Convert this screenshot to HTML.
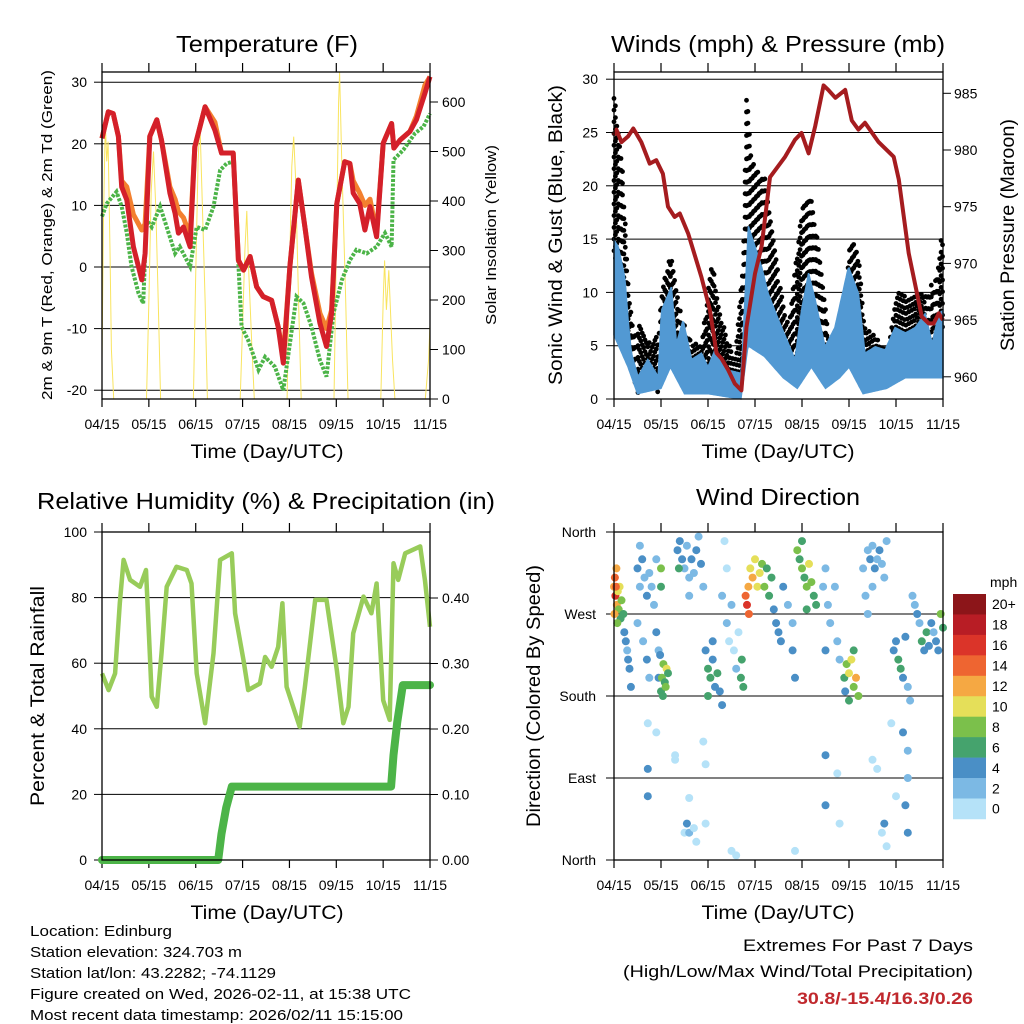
<!DOCTYPE html>
<html><head><meta charset="utf-8"><style>
html,body{margin:0;padding:0;background:#fff}
svg{display:block;font-family:"Liberation Sans",sans-serif}
</style></head><body>
<svg id="fig" width="1024" height="1024" viewBox="0 0 1024 1024" xmlns="http://www.w3.org/2000/svg">
<rect width="1024" height="1024" fill="#fff"/>
<text x="267" y="52" font-size="23" text-anchor="middle" textLength="182" lengthAdjust="spacingAndGlyphs">Temperature (F)</text>
<text x="778" y="52" font-size="23" text-anchor="middle" textLength="334" lengthAdjust="spacingAndGlyphs">Winds (mph) &amp; Pressure (mb)</text>
<text x="266" y="509" font-size="23" text-anchor="middle" textLength="458" lengthAdjust="spacingAndGlyphs">Relative Humidity (%) &amp; Precipitation (in)</text>
<text x="778" y="505" font-size="23" text-anchor="middle" textLength="164" lengthAdjust="spacingAndGlyphs">Wind Direction</text>
<text x="267" y="458" font-size="19" text-anchor="middle" textLength="153" lengthAdjust="spacingAndGlyphs">Time (Day/UTC)</text>
<text x="778" y="458" font-size="19" text-anchor="middle" textLength="153" lengthAdjust="spacingAndGlyphs">Time (Day/UTC)</text>
<text x="267" y="919" font-size="19" text-anchor="middle" textLength="153" lengthAdjust="spacingAndGlyphs">Time (Day/UTC)</text>
<text x="778" y="919" font-size="19" text-anchor="middle" textLength="153" lengthAdjust="spacingAndGlyphs">Time (Day/UTC)</text>
<text transform="translate(52,235) rotate(-90)" font-size="15" text-anchor="middle" textLength="330" lengthAdjust="spacingAndGlyphs">2m &amp; 9m T (Red, Orange) &amp; 2m Td (Green)</text>
<text transform="translate(496,235) rotate(-90)" font-size="15" text-anchor="middle" textLength="180" lengthAdjust="spacingAndGlyphs">Solar Insolation (Yellow)</text>
<text transform="translate(562,235) rotate(-90)" font-size="19" text-anchor="middle" textLength="300" lengthAdjust="spacingAndGlyphs">Sonic Wind &amp; Gust (Blue, Black)</text>
<text transform="translate(1014,235) rotate(-90)" font-size="19" text-anchor="middle" textLength="232" lengthAdjust="spacingAndGlyphs">Station Pressure (Maroon)</text>
<text transform="translate(44,696) rotate(-90)" font-size="19" text-anchor="middle" textLength="220" lengthAdjust="spacingAndGlyphs">Percent &amp; Total Rainfall</text>
<text transform="translate(540,696) rotate(-90)" font-size="19" text-anchor="middle" textLength="262" lengthAdjust="spacingAndGlyphs">Direction (Colored By Speed)</text>
<g font-size="15">
<text x="30" y="936" textLength="142" lengthAdjust="spacingAndGlyphs">Location: Edinburg</text>
<text x="30" y="957" textLength="212" lengthAdjust="spacingAndGlyphs">Station elevation: 324.703 m</text>
<text x="30" y="978" textLength="246" lengthAdjust="spacingAndGlyphs">Station lat/lon: 43.2282; -74.1129</text>
<text x="30" y="999" textLength="381" lengthAdjust="spacingAndGlyphs">Figure created on Wed, 2026-02-11, at 15:38 UTC</text>
<text x="30" y="1020" textLength="373" lengthAdjust="spacingAndGlyphs">Most recent data timestamp: 2026/02/11 15:15:00</text>
</g>
<text x="973" y="951" font-size="17" text-anchor="end" textLength="230" lengthAdjust="spacingAndGlyphs">Extremes For Past 7 Days</text>
<text x="973" y="977" font-size="17" text-anchor="end" textLength="350" lengthAdjust="spacingAndGlyphs">(High/Low/Max Wind/Total Precipitation)</text>
<text x="973" y="1004" font-size="17" font-weight="bold" fill="#c0282d" text-anchor="end" textLength="176" lengthAdjust="spacingAndGlyphs">30.8/-15.4/16.3/0.26</text>
<g id="layer"></g>
</svg>
<script>
// ---------- DATA ----------
const xTickLabels = ["04/15","05/15","06/15","07/15","08/15","09/15","10/15","11/15"];
// Temperature panel
const tempTicks = [30,20,10,0,-10,-20];
const solarTicks = [0,100,200,300,400,500,600];
const t2mTime = [0,.135,.24,.35,.42,.53,.67,.85,.92,1.02,1.17,1.27,1.45,1.56,1.63,1.74,1.88,1.98,2.2,2.41,2.55,2.8,2.91,3.02,3.16,3.3,3.44,3.62,3.76,3.87,4.01,4.19,4.33,4.47,4.65,4.79,4.9,5.01,5.18,5.29,5.36,5.5,5.61,5.72,5.86,6.0,6.18,6.23,6.36,6.57,6.71,6.89,7.0];
const t2mVals = [20.9,25.2,24.9,21.2,13.0,10.9,3.3,-2.1,2.2,21.2,23.9,20.6,12.0,8.7,5.5,6.5,3.3,19.5,26.0,22.2,18.5,18.5,1.1,-0.5,1.7,-3.2,-4.8,-5.4,-9.7,-15.6,0.1,14.1,6.5,-1.6,-9.1,-12.9,-7.5,10.3,17.1,16.8,12.0,10.3,6.0,9.8,4.9,20.1,23.3,19.3,20.6,22.0,23.9,28.2,30.9];
const t9mVals = [20.9,25.2,24.9,21.2,14.0,13.0,8.5,6.0,7.0,21.2,23.9,20.6,13.0,11.0,9.0,8.0,5.0,19.5,26.0,23.5,18.5,18.5,1.1,-0.5,1.7,-3.2,-4.8,-5.4,-9.7,-14.5,0.1,14.1,6.5,-1.0,-7.5,-10.0,-7.0,10.3,17.1,16.8,14.0,12.0,10.0,11.0,5.5,20.1,23.3,19.3,20.6,22.0,24.5,29.5,30.9];
const tdTime = [0,.10,.31,.42,.53,.63,.78,.88,.95,1.06,1.24,1.38,1.56,1.66,1.81,1.88,2.02,2.2,2.38,2.52,2.66,2.8,2.87,2.98,3.12,3.34,3.48,3.69,3.87,4.01,4.15,4.3,4.47,4.65,4.79,4.94,5.12,5.29,5.43,5.65,5.86,6.04,6.18,6.22,6.43,6.68,6.86,7.0];
const tdVals = [8.2,10.3,12.2,9.8,5.5,0.1,-4.3,-5.9,7.6,6.5,9.8,6.5,2.2,3.3,1.1,0.1,6.5,6.0,9.8,15.7,16.8,17.1,6.5,-9.7,-11.9,-16.7,-14.6,-16.2,-20.0,-12.4,-4.8,-5.9,-9.7,-15.1,-17.8,-7.5,-2.1,1.1,2.8,2.2,3.3,5.5,3.3,17.4,19.0,21.7,22.8,24.9];
const solarTime = [0,.03,.07,.1,.13,.17,.2,.25,.95,1.0,1.05,1.1,1.15,1.2,1.25,1.95,2.0,2.05,2.09,2.13,2.2,2.25,2.95,3.0,3.05,3.09,3.13,3.2,3.25,3.95,4.0,4.05,4.09,4.13,4.2,4.25,4.95,5.0,5.05,5.07,5.11,5.2,5.25,5.95,6.0,6.03,6.07,6.12,6.2,6.25,6.9,6.97,7.0];
const solarVals = [80,350,560,480,520,300,100,0,0,200,420,500,380,200,0,0,250,480,560,430,200,0,0,150,300,380,260,100,0,0,250,470,530,450,180,0,0,300,600,660,500,200,0,0,200,280,180,260,80,0,0,80,150];
// Winds panel
const windTicks = [0,5,10,15,20,25,30];
const pressTicks = [960,965,970,975,980,985];
const pressTime = [0,.05,.16,.30,.41,.58,.76,.90,1.04,1.15,1.29,1.40,1.58,1.86,2.04,2.18,2.29,2.43,2.57,2.71,2.82,3.0,3.14,3.32,3.64,3.85,3.99,4.14,4.28,4.46,4.56,4.71,4.92,5.06,5.2,5.34,5.63,5.95,6.06,6.27,6.55,6.7,6.8,6.91,7.0];
const pressVals = [981.3,981.8,980.7,981.2,981.9,980.7,978.8,979.1,977.9,975.0,974.1,974.4,972.6,968.8,965.9,962.1,961.6,960.6,959.4,958.8,964.4,969.1,971.5,977.6,979.4,980.9,981.5,979.7,982.1,985.7,985.3,984.6,985.3,982.6,981.8,982.4,980.7,979.4,977.4,970.9,965.3,964.7,964.7,965.6,965.0];
const windTime = [0,.09,.23,.30,.37,.51,.72,.94,1.01,1.22,1.33,1.47,1.65,1.86,2.0,2.15,2.43,2.71,2.86,3.0,3.14,3.28,3.5,3.71,3.85,3.99,4.14,4.28,4.49,4.7,4.99,5.2,5.34,5.56,5.77,5.98,6.2,6.41,6.62,6.77,6.91,7.0];
const windHigh = [14.9,14.3,11.4,7.4,4.3,2.1,3.7,2.1,8.3,10.5,5.2,7.4,3.7,4.3,3.0,4.6,2.7,2.4,16.2,14.3,12.4,9.9,7.4,5.2,3.7,8.3,11.8,9.3,4.9,6.7,12.4,9.9,4.3,4.9,4.6,6.7,6.2,6.7,8.0,5.2,8.0,8.3];
const windLowTime = [0,.3,.5,1.0,1.2,1.5,2.0,2.7,2.85,3.2,3.6,3.9,4.2,4.5,4.8,5.0,5.3,5.8,6.2,6.6,7.0];
const windLow = [6,3,0.5,1,3,0.5,0.5,0,5,4,2,1,3,1,2,3,0.5,1,2,2,2];
const gustTime = [0,.05,.16,.23,.30,.41,.58,.80,.94,1.04,1.22,1.44,1.65,1.86,2.08,2.29,2.57,2.75,2.82,2.93,3.07,3.21,3.35,3.5,3.71,3.99,4.17,4.35,4.56,4.85,5.03,5.2,5.34,5.63,5.84,6.02,6.2,6.62,6.84,6.98];
const gustVals = [28.7,26.8,23.0,17.4,11.1,6.8,7.4,4.9,6.2,11.1,13.7,7.7,5.2,5.2,13.3,7.4,3.7,13.0,28.7,22.4,21.5,20.9,16.8,11.5,6.8,17.7,19.6,14.3,6.2,5.5,15.2,13.7,6.8,5.5,4.9,10.2,9.6,10.2,11.1,15.5];
// Humidity panel
const rhTicks = [0,20,40,60,80,100];
const precipTicks = ["0.00","0.10","0.20","0.30","0.40"];
const rhTime = [0,.14,.28,.38,.46,.60,.81,.94,1.02,1.06,1.17,1.27,1.38,1.59,1.81,1.91,2.02,2.20,2.38,2.52,2.77,2.84,3.02,3.12,3.37,3.48,3.62,3.76,3.85,3.94,4.22,4.33,4.55,4.79,5.01,5.15,5.26,5.36,5.58,5.75,5.86,6.00,6.14,6.22,6.32,6.47,6.79,6.89,7.0];
const rhVals = [56.9,51.8,56.9,78.3,91.5,85.4,83.3,88.4,63.0,49.8,46.7,63.0,83.3,89.4,88.4,84.3,56.9,41.7,63.0,91.5,93.5,75.2,60.9,51.8,53.8,61.9,58.9,65.0,78.3,52.8,40.6,52.8,79.3,79.3,58.0,41.7,46.7,69.1,80.3,75.2,84.3,48.7,42.7,90.5,85.4,93.5,95.6,85.4,71.1];
const precipTime = [0,2.48,2.55,2.65,2.77,6.17,6.22,6.3,6.42,7.0];
const precipVals = [0,0,0.04,0.08,0.112,0.112,0.16,0.21,0.267,0.267];
// Wind direction panel
const dirLabels = ["North","West","South","East","North"];
const speedLabels = ["20+","18","16","14","12","10","8","6","4","2","0"];
const speedColors = ["#b5e2f8","#7cb9e4","#4a8fc6","#45a36d","#7bc04b","#e5df59","#f5a843","#ee6531","#db3429","#b81d25","#8c1519"];
const dirTime = [0,.02,.03,.05,.06,.08,.1,.12,.14,.16,.2,.22,.25,.28,.3,.33,.36,.01,.04,.07,
 .5,.55,.6,.65,.7,.75,.8,.85,.9,.5,.62,.7,.75,.9,.95,.55,
 .95,1.0,1.02,1.05,1.08,1.1,1.12,1.04,1.15,.98,1.0,1.0,
 1.35,1.4,1.45,1.5,1.55,1.6,1.65,1.7,1.75,1.8,1.85,1.9,1.38,1.6,
 1.95,2.0,2.05,2.1,2.15,2.2,2.25,2.0,2.1,2.3,
 2.3,2.4,2.45,2.5,2.55,2.6,2.7,2.75,2.72,2.65,2.4,2.35,
 2.8,2.83,2.86,2.9,2.95,3.0,3.05,3.1,3.15,3.2,3.25,3.3,3.35,3.4,2.87,3.45,3.5,3.55,
 3.9,3.95,4.0,4.05,4.1,4.15,4.2,4.25,4.3,4.0,4.1,3.6,3.7,3.8,3.85,3.8,
 4.45,4.5,4.55,4.6,4.7,4.75,4.8,4.5,
 4.9,4.95,5.0,5.05,5.1,5.15,5.2,5.0,4.92,5.1,
 5.3,5.4,5.45,5.5,5.55,5.6,5.65,5.7,5.75,5.8,5.35,5.4,5.5,
 5.95,6.0,6.05,6.1,6.15,6.2,6.25,6.3,
 6.35,6.4,6.45,6.5,6.55,6.6,6.65,6.7,6.75,6.8,6.85,6.9,6.95,7.0,
 .72,.9,.72,.72,1.3,1.3,1.6,1.5,1.55,1.6,1.75,1.7,1.9,1.95,1.95,2.5,2.6,3.85,4.5,4.5,4.75,4.8,5.5,5.6,5.7,5.75,5.8,5.9,6.15,6.25,6.25,6.2,6.25,6.0];
const dirDeg = [300,310,290,320,280,295,275,300,265,285,270,250,240,230,220,210,190,270,300,260,
 320,300,330,310,290,315,300,280,330,260,240,220,200,250,230,345,
 200,185,200,215,195,190,210,180,205,225,300,320,
 340,350,330,320,345,310,330,315,340,355,325,300,320,290,
 230,210,200,220,190,205,185,180,240,170,
 290,260,240,280,230,210,200,190,220,250,320,350,
 290,280,300,320,310,330,300,315,325,300,320,290,310,275,270,260,250,240,
 340,330,320,310,300,325,305,290,280,350,275,300,280,260,200,230,
 300,320,280,260,300,240,220,230,
 200,215,205,220,190,200,180,175,185,230,
 320,340,330,345,320,330,340,325,310,350,290,270,300,
 230,240,220,210,200,245,190,175,
 290,280,270,260,240,230,250,235,260,250,240,230,270,255,
 150,140,100,70,115,110,68,30,40,30,20,35,130,105,40,10,5,10,115,60,95,40,110,100,30,40,15,150,140,120,90,60,30,70];
const dirSpeed = [12,14,16,13,12,10,8,10,6,8,6,4,4,3,4,4,4,12,14,8,
 4,2,4,2,4,2,2,2,2,2,2,4,2,4,2,2,
 4,6,8,8,6,8,10,6,6,4,6,8,
 4,4,4,2,2,2,4,2,4,2,4,2,6,2,
 4,6,6,4,4,6,4,6,4,4,
 2,2,0,2,0,2,6,6,6,0,0,0,
 14,16,12,10,12,10,10,10,8,8,6,6,6,4,14,4,4,4,
 8,6,8,6,8,10,8,6,6,6,6,4,2,2,4,4,
 2,2,2,2,2,2,2,4,
 6,8,10,10,8,12,8,6,4,6,
 2,2,4,2,4,2,4,2,2,2,2,2,2,
 4,4,6,6,4,4,2,2,
 2,2,4,2,6,4,6,4,4,2,4,4,8,6,
 0,0,4,4,0,0,0,0,4,2,0,0,0,0,0,0,0,0,4,4,0,0,0,0,0,4,0,0,4,2,2,4,4,0];

// ---------- DRAW ----------
const NS="http://www.w3.org/2000/svg";
const layer=document.getElementById('layer');
function mk(tag,attrs,parent){const e=document.createElementNS(NS,tag);for(const k in attrs)e.setAttribute(k,attrs[k]);(parent||layer).appendChild(e);return e;}
function txt(s,attrs,parent){const e=mk('text',attrs,parent);e.textContent=s;return e;}
function pathOf(ts,vs,X,Y){return ts.map((t,i)=>(i?'L':'M')+X(t).toFixed(1)+','+Y(vs[i]).toFixed(1)).join('');}
function interp(ts,vs,t){if(t<=ts[0])return vs[0];for(let i=1;i<ts.length;i++){if(t<=ts[i]){const f=(t-ts[i-1])/(ts[i]-ts[i-1]);return vs[i-1]+f*(vs[i]-vs[i-1]);}}return vs[vs.length-1];}

function frame(name,x0,x1,y0,y1,X){
  const g=mk('g',{});
  
  
  for(let i=0;i<xTickLabels.length;i++){
    const x=X(i);
    mk('line',{x1:x,x2:x,y1:y0-9,y2:y0,stroke:'#000','stroke-width':1.2},g);
    mk('line',{x1:x,x2:x,y1:y1,y2:y1+8,stroke:'#000','stroke-width':1.2},g);
    const l=txt(xTickLabels[i],{x:x,y:y1+30,'font-size':14,'text-anchor':'middle'},g);
    
    
  }
  return g;
}
function border(x0,x1,y0,y1){
  const r=mk('rect',{x:x0,y:y0,width:x1-x0,height:y1-y0,fill:'none',stroke:'#000','stroke-width':1.3});
  
  
}
function hgrid(y,x0,x1,g){mk('line',{x1:x0,x2:x1,y1:y,y2:y,stroke:'#000','stroke-width':1},g);}

// Panel 1: temperature
{
 const X=t=>102+t*46.86, Y=v=>267-v*6.16, Ys=v=>399-v*0.495;
 const g=frame('temperature',102,430,72,399,X);
 tempTicks.forEach(v=>{hgrid(Y(v),102,430,g);mk('line',{x1:94,x2:102,y1:Y(v),y2:Y(v),stroke:'#000'},g);
  const l=txt(String(v),{x:87,y:Y(v)+5,'font-size':14,'text-anchor':'end'},g);
  });
 solarTicks.forEach(v=>{mk('line',{x1:430,x2:438,y1:Ys(v),y2:Ys(v),stroke:'#000'},g);
  const l=txt(String(v),{x:442,y:Ys(v)+5,'font-size':14},g);
  });
 const s=mk('path',{d:pathOf(solarTime,solarVals,X,Ys),fill:'none',stroke:'#f9e45f','stroke-width':1});
 
 const td=mk('path',{d:pathOf(tdTime,tdVals,X,Y),fill:'none',stroke:'#4cb448','stroke-width':4,'stroke-dasharray':'3 1.5'});
 
 const o=mk('path',{d:pathOf(t2mTime,t9mVals,X,Y),fill:'none',stroke:'#f3802f','stroke-width':5,'stroke-linejoin':'round'});
 
 const r=mk('path',{d:pathOf(t2mTime,t2mVals,X,Y),fill:'none',stroke:'#d4202a','stroke-width':5,'stroke-linejoin':'round'});
 
 border(102,430,72,399);
}
// Panel 2: winds
{
 const X=t=>614+t*47, Y=v=>399-v*10.66, Yp=p=>93.3+(985-p)*11.34;
 const g=frame('winds',614,943,72,399,X);
 windTicks.forEach(v=>{hgrid(Y(v),614,943,g);mk('line',{x1:606,x2:614,y1:Y(v),y2:Y(v),stroke:'#000'},g);
  const l=txt(String(v),{x:598,y:Y(v)+5,'font-size':14,'text-anchor':'end'},g);
  });
 pressTicks.forEach(v=>{mk('line',{x1:943,x2:951,y1:Yp(v),y2:Yp(v),stroke:'#000'},g);
  const l=txt(String(v),{x:954,y:Yp(v)+5,'font-size':14},g);
  });
 // sonic wind band (drawn first, gusts over the top)
 let up=[],dn=[];
 for(let t=0;t<=7.0001;t+=0.02){
   up.push(X(t).toFixed(1)+','+Y(interp(windTime,windHigh,t)).toFixed(1));
   dn.unshift(X(t).toFixed(1)+','+Y(interp(windLowTime,windLow,t)).toFixed(1));
 }
 const gg=mk('g',{});
 
 let k=0;
 for(let t=0;t<=7.0001;t+=0.03){
   const hi=interp(gustTime,gustVals,t), lo=interp(windTime,windHigh,t)-1.5;
   k++;
   for(let v=lo+(k%2)*0.5;v<=hi;v+=1.1){
     mk('circle',{cx:X(t).toFixed(1),cy:Y(v).toFixed(1),r:2.4,fill:'#000'},gg);
   }
 }
 const wb=mk('polygon',{points:up.concat(dn).join(' '),fill:'#5299d3',stroke:'#5299d3','stroke-width':1.5});
 
 const p=mk('path',{d:pathOf(pressTime,pressVals,X,Yp),fill:'none',stroke:'#a51c1f','stroke-width':4,'stroke-linejoin':'round'});
 
 border(614,943,72,399);
}
// Panel 3: humidity
{
 const X=t=>102+t*46.86, Y=v=>860-v*3.28, Yp=v=>860-v*655;
 const g=frame('humidity',102,430,532,860,X);
 rhTicks.forEach(v=>{hgrid(Y(v),102,430,g);mk('line',{x1:94,x2:102,y1:Y(v),y2:Y(v),stroke:'#000'},g);
  const l=txt(String(v),{x:87,y:Y(v)+5,'font-size':14,'text-anchor':'end'},g);
  });
 precipTicks.forEach(v=>{const y=Yp(parseFloat(v));mk('line',{x1:430,x2:438,y1:y,y2:y,stroke:'#000'},g);
  const l=txt(v,{x:442,y:y+5,'font-size':14},g);
  });
 const rh=mk('path',{d:pathOf(rhTime,rhVals,X,Y),fill:'none',stroke:'#98cc5a','stroke-width':4.5,'stroke-linejoin':'round'});
 
 const pr=mk('path',{d:pathOf(precipTime,precipVals,X,Yp),fill:'none',stroke:'#4cb448','stroke-width':8,'stroke-linejoin':'round','stroke-linecap':'round'});
 
 border(102,430,532,860);
}
// Panel 4: wind direction
{
 const X=t=>614+t*47, Y=d=>860-d*328/360;
 const g=frame('direction',614,943,532,860,X);
 dirLabels.forEach((s,i)=>{const y=Y(360-i*90);hgrid(y,606,943,g);
  const l=txt(s,{x:596,y:y+5,'font-size':14,'text-anchor':'end'},g);
  });
 const dg=mk('g',{});
 
 dirTime.forEach((t,i)=>{
   const bin=Math.min(10,Math.floor(dirSpeed[i]/2));
   const c=mk('circle',{cx:X(t).toFixed(1),cy:Y(dirDeg[i]).toFixed(1),r:4,fill:speedColors[bin]},dg);
   
   
 });
 border(614,943,532,860);
 const cb=mk('g',{});
 
 const top=594,h=20.45;
 speedLabels.forEach((s,i)=>{
   const col=speedColors[10-i];
   mk('rect',{x:953,y:top+i*h,width:33,height:h+0.3,fill:col},cb);
   const l=txt(s,{x:992,y:top+i*h+h/2+5,'font-size':14},cb);
   
 });
 const u=txt('mph',{x:990,y:587,'font-size':14},cb);
 
}
</script>
</body></html>
